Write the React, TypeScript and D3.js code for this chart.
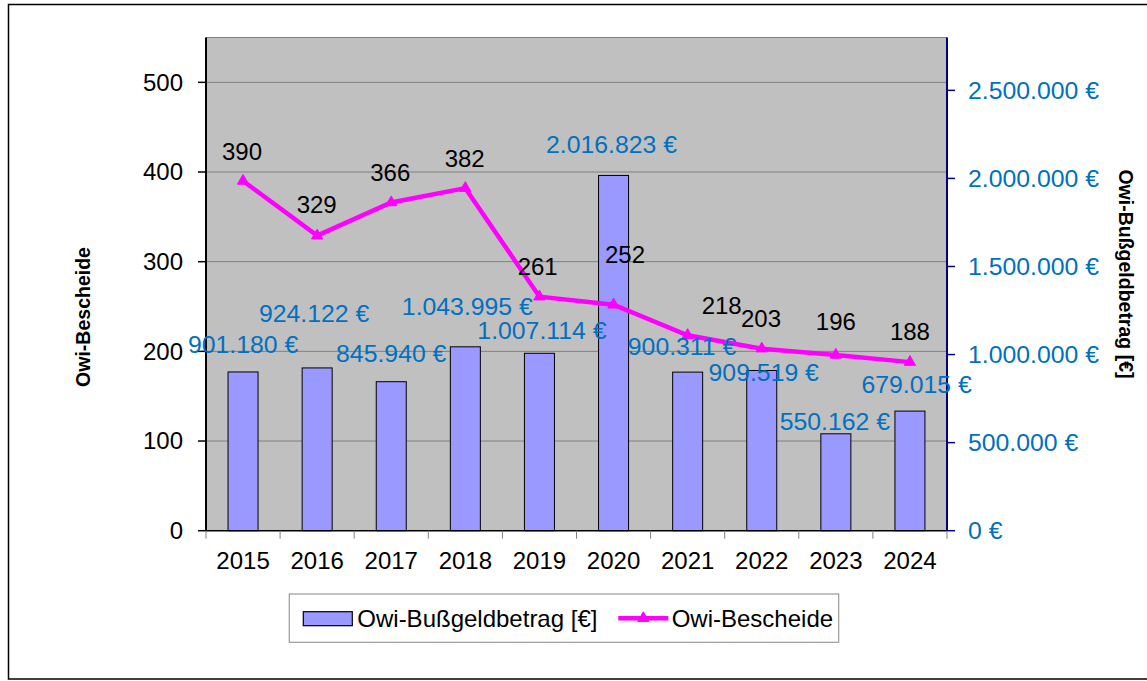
import React from "react";
import * as d3 from "d3";

const years = ["2015", "2016", "2017", "2018", "2019", "2020", "2021", "2022", "2023", "2024"];
const fineAmounts = [901180, 924122, 845940, 1043995, 1007114, 2016823, 900311, 909519, 550162, 679015];
const decisions = [390, 329, 366, 382, 261, 252, 218, 203, 196, 188];
const leftTicks = [0, 100, 200, 300, 400, 500];
const rightTicks = [0, 500000, 1000000, 1500000, 2000000, 2500000];

// label placement tweaks (px, relative to the mark)
const barLabelDx = [0, -3, 0, 2, 2.5, -2, -5.6, 2, -1, 6.7];
const barLabelDy = [-27.7, -55, -28, -40, -22.6, -31, -25.6, 2.3, -12.6, -27];
const lineLabelDx = [-1, -0.5, -1, -0.7, -1.8, 11.5, 34, -0.7, 0, 0];
const lineLabelDy = [-29.3, -30.7, -30.2, -29.9, -30, -49.7, -30, -29.7, -33, -30.4];

const W = 1147;
const H = 681;
const plot = { left: 206, right: 947, top: 37.5, bottom: 530.7 };
const FONT = "'Liberation Sans', Arial, Helvetica, sans-serif";
const BLUE = "#0070C0";

const de = d3.formatLocale({ decimal: ",", thousands: ".", grouping: [3], currency: ["", " €"] });
const fmtEuro = (v: number) => de.format(",.0f")(v) + " €";

export default function App() {
  const x = d3.scaleBand<string>().domain(years).range([plot.left, plot.right]).padding(0);
  const yL = d3.scaleLinear().domain([0, 550]).range([plot.bottom, plot.top]);
  const yR = d3.scaleLinear().domain([0, 2800000]).range([plot.bottom, plot.top]);
  const bw = x.bandwidth();
  const barW = bw * 0.405;
  const cx = (y: string) => (x(y) as number) + bw / 2;

  const line = d3
    .line<number>()
    .x((_, i) => cx(years[i]))
    .y((d) => yL(d));
  const tri = d3.symbol(d3.symbolTriangle, 55)() as string;

  const boundaries = years.map((y) => x(y) as number).concat([plot.right]);

  return (
    <div style={{ position: "absolute", left: 0, top: 0 }}>
      <svg width={W} height={H} style={{ display: "block", fontFamily: FONT }}>
        <rect x={0} y={0} width={W} height={H} fill="#fff" />
        {/* outer frame */}
        <rect x={8.5} y={4.5} width={W + 20} height={674.5} fill="none" stroke="#000" strokeWidth={1.5} />

        {/* plot background */}
        <rect
          x={plot.left}
          y={plot.top}
          width={plot.right - plot.left}
          height={plot.bottom - plot.top}
          fill="#C0C0C0"
        />
        <line x1={plot.left} x2={plot.right} y1={plot.top} y2={plot.top} stroke="#808080" strokeWidth={1} />
        {/* gridlines */}
        {leftTicks
          .filter((t) => t > 0)
          .map((t) => (
            <line
              key={"g" + t}
              x1={plot.left}
              x2={plot.right}
              y1={yL(t)}
              y2={yL(t)}
              stroke="#808080"
              strokeWidth={1}
            />
          ))}

        {/* bars */}
        {years.map((yr, i) => (
          <rect
            key={"b" + yr}
            x={cx(yr) - barW / 2}
            y={yR(fineAmounts[i])}
            width={barW}
            height={plot.bottom - yR(fineAmounts[i])}
            fill="#9999FF"
            stroke="#000"
            strokeWidth={1}
          />
        ))}

        {/* axes */}
        <line x1={plot.left} x2={plot.right} y1={plot.bottom} y2={plot.bottom} stroke="#000" strokeWidth={1.5} />
        <line x1={plot.left} x2={plot.left} y1={plot.top} y2={plot.bottom} stroke="#000" strokeWidth={2} />
        <line x1={plot.right} x2={plot.right} y1={plot.top} y2={plot.bottom} stroke="#000080" strokeWidth={2} />

        {/* left ticks */}
        {leftTicks.map((t) => (
          <g key={"lt" + t}>
            <line x1={plot.left - 8} x2={plot.left} y1={yL(t)} y2={yL(t)} stroke="#000" strokeWidth={1.5} />
            <text x={183} y={yL(t)} dy="0.35em" textAnchor="end" fontSize={24} fill="#000">
              {t}
            </text>
          </g>
        ))}

        {/* right ticks */}
        {rightTicks.map((t) => (
          <g key={"rt" + t}>
            <line x1={plot.right} x2={plot.right + 8} y1={yR(t)} y2={yR(t)} stroke="#000080" strokeWidth={1.5} />
            <text x={968} y={yR(t)} dy="0.35em" textAnchor="start" fontSize={24.8} fill={BLUE}>
              {fmtEuro(t)}
            </text>
          </g>
        ))}

        {/* x ticks */}
        {boundaries.map((b, i) => (
          <line key={"xt" + i} x1={b} x2={b} y1={plot.bottom} y2={plot.bottom + 8} stroke="#808080" strokeWidth={1} />
        ))}
        {years.map((yr) => (
          <text key={"xl" + yr} x={cx(yr)} y={560.3} dy="0.35em" textAnchor="middle" fontSize={24} fill="#000">
            {yr}
          </text>
        ))}

        {/* line series */}
        <path d={line(decisions) as string} fill="none" stroke="#FF00FF" strokeWidth={4.5} strokeLinejoin="miter" />
        {decisions.map((v, i) => (
          <path
            key={"m" + i}
            d={tri}
            transform={`translate(${cx(years[i])},${yL(v)})`}
            fill="#FF00FF"
            stroke="#FF00FF"
            strokeWidth={1}
          />
        ))}

        {/* bar labels */}
        {years.map((yr, i) => (
          <text
            key={"bl" + yr}
            x={cx(yr) + barLabelDx[i]}
            y={yR(fineAmounts[i]) + barLabelDy[i]}
            dy="0.35em"
            textAnchor="middle"
            fontSize={24.8}
            fill={BLUE}
          >
            {fmtEuro(fineAmounts[i])}
          </text>
        ))}

        {/* line labels */}
        {years.map((yr, i) => (
          <text
            key={"ll" + yr}
            x={cx(yr) + lineLabelDx[i]}
            y={yL(decisions[i]) + lineLabelDy[i]}
            dy="0.35em"
            textAnchor="middle"
            fontSize={24}
            fill="#000"
          >
            {decisions[i]}
          </text>
        ))}

        {/* axis titles */}
        <text
          transform={`translate(83,317) rotate(-90)`}
          dy="0.35em"
          textAnchor="middle"
          fontSize={19.5}
          fontWeight="bold"
          fill="#000"
        >
          Owi-Bescheide
        </text>
        <text
          transform={`translate(1126,274) rotate(90)`}
          dy="0.35em"
          textAnchor="middle"
          fontSize={19.5}
          fontWeight="bold"
          fill="#000"
        >
          Owi-Bußgeldbetrag [€]
        </text>

        {/* legend */}
        <rect x={289.3} y={594} width={549.4} height={48.3} fill="#fff" stroke="#999" strokeWidth={1.2} />
        <rect x={303.3} y={611.7} width={49} height={14} fill="#9999FF" stroke="#000" strokeWidth={1.2} />
        <text x={357.3} y={618.5} dy="0.35em" fontSize={24} fill="#000">
          Owi-Bußgeldbetrag [€]
        </text>
        <line x1={618.3} x2={668.3} y1={618.3} y2={618.3} stroke="#FF00FF" strokeWidth={4.5} />
        <path d={tri} transform="translate(643.3,618.3)" fill="#FF00FF" stroke="#FF00FF" strokeWidth={1} />
        <text x={671.7} y={618.5} dy="0.35em" fontSize={24} fill="#000">
          Owi-Bescheide
        </text>
      </svg>
    </div>
  );
}
